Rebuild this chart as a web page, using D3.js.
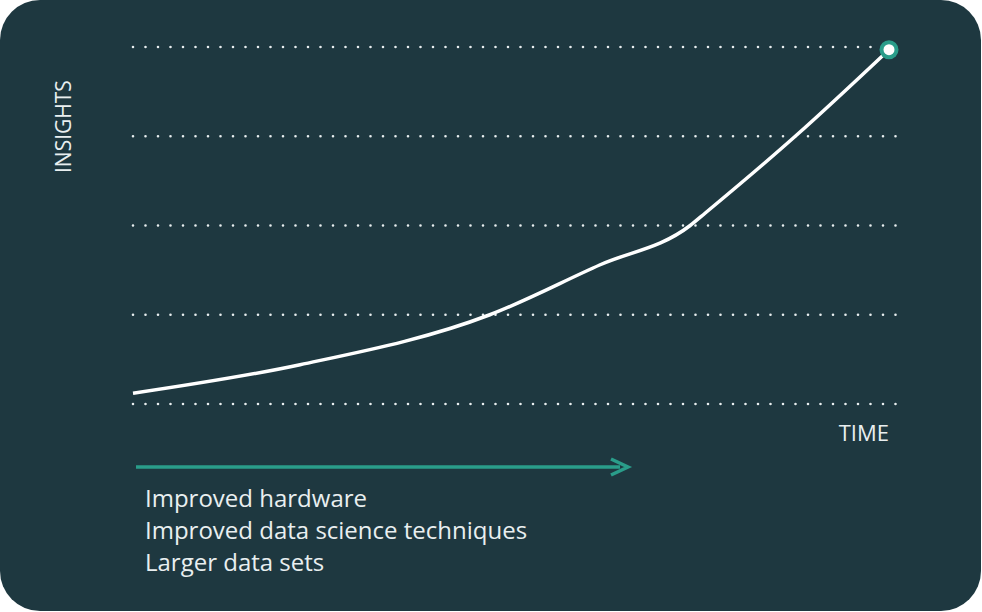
<!DOCTYPE html>
<html>
<head>
<meta charset="utf-8">
<script src="https://cdn.jsdelivr.net/npm/d3@7"></script>
<style>
  body { margin: 0; background: #fff; }
  text { font-family: "Open Sans", sans-serif; fill: #e9eff0; }
</style>
</head>
<body>
<svg id="chart" width="982" height="612"></svg>
<script>
"use strict";
// time (0..10) vs insights (0..4)
var times = [0, 2.21, 4.72, 6.18, 7.37, 7.57, 8.76, 10];
var insights = [0.12, 0.44, 1.0, 1.56, 2.0, 2.14, 3.0, 3.97];
var gridLevels = [0, 1, 2, 3, 4];
var drivers = ["Improved hardware", "Improved data science techniques", "Larger data sets"];

var svg = d3.select("#chart");
var teal = "#2a9d8a";

svg.append("rect").attr("x", 0).attr("y", 0).attr("width", 981).attr("height", 611)
    .attr("rx", 40).attr("fill", "#1e3840");

var x = d3.scaleLinear().domain([0, 10]).range([133, 889]);
var y = d3.scaleLinear().domain([0, 4]).range([404, 47]);

// dotted gridlines
svg.selectAll(".grid").data(gridLevels).enter().append("line")
    .attr("x1", 133).attr("x2", 902)
    .attr("y1", function(d){ return y(d); }).attr("y2", function(d){ return y(d); })
    .attr("stroke", "#e9eff0").attr("stroke-width", 2.6)
    .attr("stroke-linecap", "round").attr("stroke-dasharray", "0 12.5");

var pts = times.map(function(t, i){ return [t, insights[i]]; });
var line = d3.line().x(function(d){ return x(d[0]); }).y(function(d){ return y(d[1]); })
    .curve(d3.curveMonotoneX);
svg.append("path").datum(pts).attr("d", line)
    .attr("fill", "none").attr("stroke", "#fff").attr("stroke-width", 3.5);

var last = pts[pts.length - 1];
svg.append("circle").attr("cx", x(last[0])).attr("cy", y(last[1])).attr("r", 9.5).attr("fill", teal);
svg.append("circle").attr("cx", x(last[0])).attr("cy", y(last[1])).attr("r", 5.5).attr("fill", "#fff");

// axis labels
svg.append("text").attr("x", 889).attr("y", 441).attr("text-anchor", "end")
    .attr("font-size", 22).text("TIME");
svg.append("text").attr("transform", "translate(71,173) rotate(-90)")
    .attr("font-size", 21).text("INSIGHTS");

// arrow
svg.append("line").attr("x1", 136).attr("x2", 620).attr("y1", 467).attr("y2", 467)
    .attr("stroke", teal).attr("stroke-width", 3.5);
svg.append("path").attr("d", "M611,459 L628,467 L611,475")
    .attr("fill", "none").attr("stroke", teal).attr("stroke-width", 3.5);

svg.selectAll(".driver").data(drivers).enter().append("text")
    .attr("x", 145).attr("y", function(d, i){ return 507 + i * 32; })
    .attr("font-size", 24).text(function(d){ return d; });
</script>
</body>
</html>
